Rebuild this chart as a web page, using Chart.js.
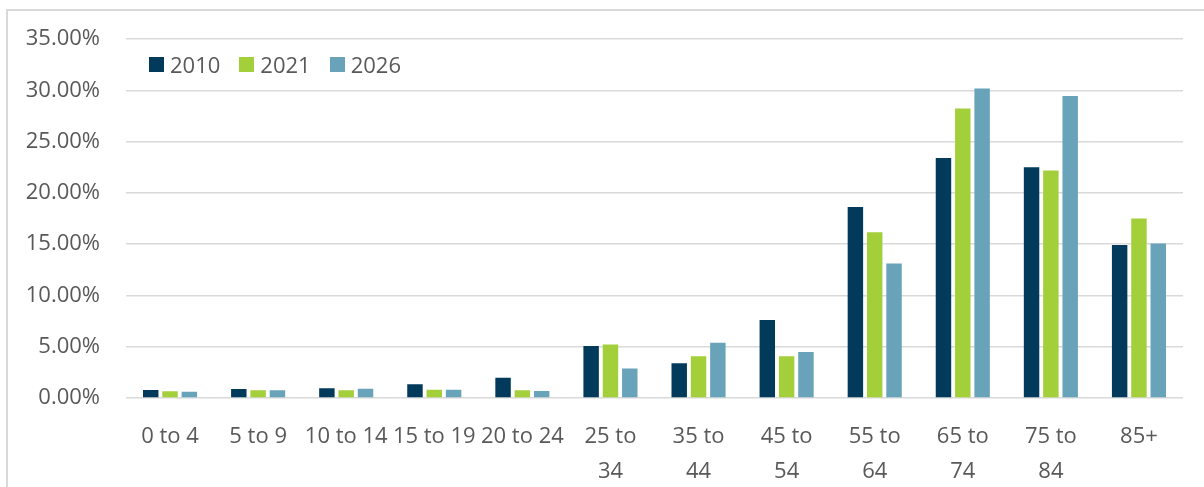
<!DOCTYPE html>
<html>
<head>
<meta charset="utf-8">
<script src="https://cdn.jsdelivr.net/npm/chart.js@4/dist/chart.umd.min.js"></script>
<style>
  html, body { margin: 0; padding: 0; background: #fff; overflow: hidden; }
  #wrap { position: relative; width: 1204px; height: 487px; }
  #frame { position: absolute; left: 6px; top: 9px; width: 1220px; height: 500px;
           border: 2px solid #d9d9d9; box-sizing: border-box; }
  #legend { position: absolute; left: 149px; top: 49px; font-family: "Open Sans", sans-serif;
            font-size: 22px; color: #595959; display: flex; }
  #legend .item { display: flex; align-items: center; margin-right: 19px; }
  #legend .box { width: 15px; height: 15px; margin-right: 6px; }
</style>
</head>
<body>
<div id="wrap">
  <div id="frame"></div>
  <canvas id="chart" width="1204" height="487"></canvas>
  <div id="legend"></div>
</div>
<script>
const ageGroups = ['0 to 4', '5 to 9', '10 to 14', '15 to 19', '20 to 24', ['25 to', '34'], ['35 to', '44'],
                   ['45 to', '54'], ['55 to', '64'], ['65 to', '74'], ['75 to', '84'], '85+'];
const seriesNames = ['2010', '2021', '2026'];
const values2010 = [0.78, 0.87, 0.94, 1.33, 1.98, 5.07, 3.39, 7.62, 18.64, 23.4, 22.5, 14.92];
const values2021 = [0.65, 0.75, 0.75, 0.81, 0.75, 5.23, 4.07, 4.07, 16.18, 28.24, 22.18, 17.5];
const values2026 = [0.62, 0.75, 0.9, 0.81, 0.68, 2.87, 5.39, 4.49, 13.12, 30.2, 29.47, 15.06];
const yTicks = [0, 5, 10, 15, 20, 25, 30, 35];
const colors = ['#023a5c', '#a3cf3b', '#68a3ba'];

const textColor = '#595959';
const fontFamily = '"Open Sans", sans-serif';

const datasets = [values2010, values2021, values2026].map((vals, i) => ({
    label: seriesNames[i],
    data: vals,
    backgroundColor: colors[i],
    categoryPercentage: 0.658,
    barPercentage: 0.8
}));

// legend drawn as html so it can sit inside the plot like the original
const legend = document.getElementById('legend');
seriesNames.forEach((name, i) => {
    legend.innerHTML += `<div class="item"><div class="box" style="background:${colors[i]}"></div>${name}</div>`;
});

const ctx = document.getElementById('chart').getContext('2d');
new Chart(ctx, {
    type: 'bar',
    data: { labels: ageGroups, datasets: datasets },
    options: {
        responsive: false,
        animation: false,
        layout: { padding: { left: 0, right: 21, top: 37, bottom: 0 } },
        plugins: { legend: { display: false }, tooltip: { enabled: false } },
        scales: {
            x: {
                grid: { display: false },
                border: { display: false },
                ticks: {
                    color: textColor, padding: 13, maxRotation: 0, autoSkip: false,
                    font: { family: fontFamily, size: 22, lineHeight: 1.6 }
                },
                afterFit: scale => { scale.height = 89; }
            },
            y: {
                min: 0,
                max: 35,
                afterBuildTicks: scale => { scale.ticks = yTicks.map(v => ({ value: v })); },
                grid: { color: '#d9d9d9', lineWidth: 1.5, drawTicks: false },
                border: { display: false },
                ticks: {
                    color: textColor, padding: 26,
                    font: { family: fontFamily, size: 22 },
                    callback: v => v.toFixed(2) + '%'
                },
                afterFit: scale => { scale.width = 126; }
            }
        }
    }
});
</script>
</body>
</html>
